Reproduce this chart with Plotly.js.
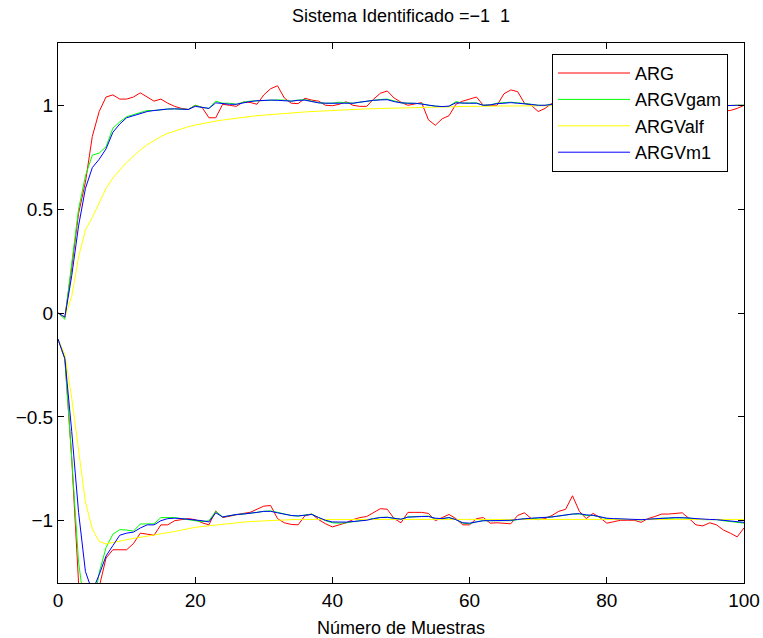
<!DOCTYPE html>
<html>
<head>
<meta charset="utf-8">
<script src="https://cdn.plot.ly/plotly-3.0.1.min.js"></script>
<style>html,body{margin:0;padding:0;background:#fff;}#plot{width:763px;height:638px;}</style>
</head>
<body>
<div id="plot"></div>
<script>
// Sample index 0..100
const samples = Array.from({length: 101}, (_, i) => i);

const seriesNames = ["ARG", "ARGVgam", "ARGValf", "ARGVm1"];

// Parameter converging to +1
const argA = [
 0, -0.02, 0.22, 0.48, 0.63, 0.85, 0.97, 1.04, 1.05, 1.03,
 1.03, 1.04, 1.06, 1.04, 1.02, 1.03, 1.01, 0.995, 0.985, 0.98,
 1.0, 0.99, 0.94, 0.94, 1.005, 1.0, 0.995, 1.016, 1.014, 1.005,
 1.05, 1.08, 1.094, 1.035, 1.01, 1.008, 1.034, 1.025, 1.02, 1.0,
 0.998, 1.005, 1.017, 1.0, 0.995, 0.995, 1.03, 1.058, 1.069, 1.035,
 1.015, 1.0, 1.005, 1.013, 0.93, 0.904, 0.935, 0.95, 1.005, 1.02,
 1.03, 1.04, 1.0, 1.0, 1.0, 1.055, 1.074, 1.066, 1.01, 1.0,
 0.97, 0.985, 1.01, 1.02, 0.99, 1.0, 1.03, 1.01, 0.98, 0.995,
 1.02, 1.0, 0.99, 1.01, 1.03, 1.0, 0.98, 0.99, 1.01, 1.02,
 0.995, 1.0, 0.985, 1.01, 0.99, 0.98, 0.975, 0.973, 0.975, 0.985,
 1.0];
const gamA = [
 0, -0.03, 0.24, 0.5, 0.66, 0.76, 0.77, 0.8, 0.89, 0.92,
 0.945, 0.955, 0.968, 0.975, 0.975, 0.98, 0.982, 0.983, 0.982, 0.98,
 1.0, 0.99, 0.985, 1.02, 1.01, 1.01, 1.005, 1.015, 1.02, 1.022,
 1.025, 1.027, 1.026, 1.025, 1.02, 1.025, 1.027, 1.02, 1.012, 1.01,
 1.01, 1.015, 1.012, 1.01, 1.015, 1.02, 1.025, 1.028, 1.03, 1.02,
 1.012, 1.01, 1.01, 1.008, 1.0, 0.995, 0.993, 0.995, 1.018, 1.01,
 1.01, 1.012, 1.0, 1.002, 1.01, 1.012, 1.015, 1.012, 1.01, 1.005,
 1.0, 1.0, 1.005, 1.01, 1.005, 1.0, 1.008, 1.01, 1.0, 0.998,
 1.005, 1.0, 0.998, 1.005, 1.01, 1.005, 0.998, 1.0, 1.004, 1.006,
 1.0, 1.0, 0.998, 1.002, 1.0, 0.996, 0.996, 0.998, 1.0, 1.0,
 1.0];
const alfA = [
 0, -0.02, 0.08, 0.27, 0.4, 0.46, 0.53, 0.6, 0.65, 0.69,
 0.725, 0.755, 0.785, 0.81, 0.83, 0.85, 0.865, 0.876, 0.888, 0.897,
 0.905, 0.912, 0.918, 0.924, 0.929, 0.934, 0.938, 0.942, 0.946, 0.95,
 0.953, 0.956, 0.959, 0.962, 0.964, 0.966, 0.968, 0.97, 0.972, 0.974,
 0.976, 0.977, 0.979, 0.98, 0.982, 0.983, 0.984, 0.985, 0.986, 0.987,
 0.988, 0.989, 0.99, 0.991, 0.991, 0.992, 0.993, 0.993, 0.994, 0.994,
 0.995, 0.995, 0.996, 0.996, 0.996, 0.997, 0.997, 0.997, 0.998, 0.998,
 0.998, 0.998, 0.998, 0.999, 0.999, 0.999, 0.999, 0.999, 0.999, 0.999,
 0.999, 1.0, 1.0, 1.0, 1.0, 1.0, 1.0, 1.0, 1.0, 1.0,
 1.0, 1.0, 1.0, 1.0, 1.0, 1.0, 1.0, 1.0, 1.0, 1.0,
 1.0];
const m1A = [
 0, -0.02, 0.18, 0.42, 0.6, 0.7, 0.74, 0.79, 0.87, 0.91,
 0.94, 0.95, 0.963, 0.97, 0.975, 0.98, 0.982, 0.983, 0.982, 0.98,
 0.995, 0.99, 0.985, 1.012, 1.008, 1.005, 1.005, 1.012, 1.018, 1.022,
 1.024, 1.025, 1.024, 1.022, 1.02, 1.024, 1.025, 1.018, 1.012, 1.01,
 1.01, 1.013, 1.012, 1.01, 1.015, 1.02, 1.024, 1.026, 1.027, 1.018,
 1.012, 1.01, 1.01, 1.006, 1.0, 0.996, 0.994, 0.996, 1.012, 1.01,
 1.01, 1.01, 1.0, 1.002, 1.008, 1.01, 1.013, 1.01, 1.008, 1.004,
 1.0, 1.0, 1.004, 1.008, 1.005, 1.0, 1.006, 1.008, 1.0, 0.998,
 1.004, 1.0, 0.998, 1.004, 1.008, 1.004, 0.998, 1.0, 1.003, 1.005,
 1.0, 1.0, 0.998, 1.002, 1.0, 0.997, 0.997, 0.998, 1.0, 1.0,
 1.0];

// Parameter converging to -1
const argB = [
 -0.125, -0.22, -0.7, -1.3, -1.55, -1.5, -1.32, -1.18, -1.14, -1.14,
 -1.14, -1.11, -1.06, -1.065, -1.07, -1.02, -1.02, -1.0, -0.995, -0.99,
 -0.995, -1.01, -1.02, -0.953, -0.985, -0.978, -0.97, -0.965, -0.96, -0.945,
 -0.93, -0.927, -0.99, -1.01, -1.018, -1.02, -0.976, -0.968, -0.995, -1.015,
 -1.03, -1.02, -1.01, -0.995, -0.985, -0.98, -0.96, -0.942, -0.945, -0.99,
 -1.01, -0.96, -0.96, -0.96, -0.965, -1.0, -0.985, -0.97, -0.99, -1.02,
 -1.02, -0.99, -0.985, -1.012, -1.01, -1.012, -1.015, -0.975, -0.962, -0.99,
 -0.995, -0.99, -0.975, -0.955, -0.945, -0.88, -0.955, -0.99, -0.965, -0.985,
 -1.012, -1.005, -0.998, -0.998, -0.998, -1.008, -0.99, -0.98, -0.968, -0.968,
 -0.965, -0.962, -0.99, -1.02, -1.025, -1.01, -1.02, -1.045, -1.06, -1.078,
 -1.035];
const gamB = [
 -0.125, -0.22, -0.7, -1.2, -1.45, -1.45, -1.25, -1.13, -1.065, -1.043,
 -1.045, -1.05, -1.016, -1.014, -1.015, -0.985, -0.984, -0.985, -0.99, -0.995,
 -0.998, -1.005, -1.0, -0.955, -0.982, -0.975, -0.97, -0.968, -0.965, -0.96,
 -0.955, -0.953, -0.96, -0.968, -0.975, -0.978, -0.972, -0.968, -0.985, -1.0,
 -1.01, -1.012, -1.01, -1.005, -1.0, -0.998, -0.99, -0.984, -0.983, -0.988,
 -0.993, -0.982, -0.98, -0.98, -0.978, -0.99, -0.99, -0.985, -0.995, -1.012,
 -1.015, -1.005, -1.0, -1.0, -1.0, -1.0, -1.0, -0.995, -0.99, -0.99,
 -0.988, -0.985, -0.982, -0.978, -0.972, -0.968, -0.968, -0.975, -0.975, -0.982,
 -0.99, -0.992, -0.993, -0.995, -0.995, -0.996, -0.994, -0.99, -0.988, -0.988,
 -0.986, -0.986, -0.988, -0.992, -0.995, -0.995, -0.995, -1.0, -1.005, -1.01,
 -1.012];
const alfB = [
 -0.125, -0.2, -0.41, -0.66, -0.91, -1.04, -1.1, -1.112, -1.105, -1.098,
 -1.09, -1.085, -1.08, -1.075, -1.07, -1.065, -1.06, -1.052, -1.045, -1.038,
 -1.032, -1.028, -1.024, -1.02, -1.016, -1.013, -1.01, -1.007, -1.004, -1.002,
 -1.0, -0.998, -0.997, -0.996, -0.995, -0.994, -0.994, -0.993, -0.993, -0.993,
 -0.993, -0.993, -0.993, -0.993, -0.993, -0.993, -0.993, -0.993, -0.993, -0.993,
 -0.993, -0.993, -0.993, -0.993, -0.993, -0.993, -0.993, -0.993, -0.993, -0.993,
 -0.993, -0.993, -0.993, -0.993, -0.993, -0.993, -0.993, -0.993, -0.993, -0.993,
 -0.993, -0.993, -0.993, -0.993, -0.993, -0.993, -0.993, -0.993, -0.993, -0.993,
 -0.993, -0.993, -0.993, -0.993, -0.993, -0.993, -0.993, -0.993, -0.993, -0.993,
 -0.994, -0.994, -0.994, -0.994, -0.994, -0.994, -0.994, -0.994, -0.994, -0.994,
 -0.994];
const m1B = [
 -0.125, -0.22, -0.57, -0.96, -1.245, -1.34, -1.26, -1.17, -1.12, -1.07,
 -1.06, -1.055, -1.035, -1.02, -1.02, -1.0, -0.99, -0.988, -0.99, -0.993,
 -0.997, -1.0, -1.006, -0.962, -0.982, -0.976, -0.97, -0.968, -0.965, -0.96,
 -0.955, -0.955, -0.962, -0.97, -0.975, -0.977, -0.972, -0.97, -0.985, -0.998,
 -1.006, -1.008, -1.007, -1.004, -1.0, -0.998, -0.99, -0.985, -0.984, -0.99,
 -0.993, -0.983, -0.98, -0.98, -0.98, -0.988, -0.99, -0.985, -0.995, -1.01,
 -1.012, -1.005, -1.0, -1.0, -1.0, -0.998, -0.998, -0.994, -0.99, -0.988,
 -0.986, -0.985, -0.982, -0.977, -0.972, -0.968, -0.966, -0.972, -0.974, -0.98,
 -0.988, -0.99, -0.992, -0.994, -0.994, -0.995, -0.993, -0.99, -0.987, -0.987,
 -0.985, -0.985, -0.987, -0.99, -0.993, -0.994, -0.995, -0.998, -1.002, -1.006,
 -1.008];

const yTickVals = [-1, -0.5, 0, 0.5, 1];
const xTickVals = [0, 20, 40, 60, 80, 100];

const colors = ["#ff0000", "#00ff00", "#ffff00", "#0000ff"];
const pairs = [[argA, argB], [gamA, gamB], [alfA, alfB], [m1A, m1B]];

const traces = [];
pairs.forEach((p, i) => {
  [0, 1].forEach(j => {
    traces.push({
      x: samples, y: p[j], type: "scatter", mode: "lines",
      name: seriesNames[i], legendgroup: seriesNames[i], showlegend: j === 0,
      line: {color: colors[i], width: 1}
    });
  });
});

const FONT = "Liberation Sans, Arial, Helvetica, sans-serif";
const layout = {
  width: 763, height: 638,
  margin: {l: 58, r: 19, t: 43, b: 55},
  paper_bgcolor: "#fff", plot_bgcolor: "#fff",
  font: {family: FONT, size: 19, color: "#000"},
  title: {text: "Sistema Identificado =\u22121  1", x: 0.5, xref: "paper", y: 0.976, yref: "container", yanchor: "middle", font: {family: FONT, size: 18, color: "#000"}},
  xaxis: {
    range: [0, 100], tickvals: xTickVals, ticks: "inside", ticklen: 6, tickcolor: "#000",
    showline: true, linecolor: "#000", linewidth: 1, mirror: "ticks", showgrid: false, zeroline: false,
    title: {text: "Número de Muestras", font: {family: FONT, size: 18, color: "#000"}, standoff: 11},
    tickfont: {family: FONT, size: 19, color: "#000"}
  },
  yaxis: {
    range: [-1.3, 1.3], tickvals: yTickVals, ticks: "inside", ticklen: 6, tickcolor: "#000",
    showline: true, linecolor: "#000", linewidth: 1, mirror: "ticks", showgrid: false, zeroline: false,
    tickfont: {family: FONT, size: 19, color: "#000"}
  },
  showlegend: true,
  legend: {
    x: 0.9767, y: 0.98, xanchor: "right", yanchor: "top",
    bgcolor: "#fff", bordercolor: "#000", borderwidth: 1,
    font: {family: FONT, size: 18, color: "#000"},
    itemwidth: 72, tracegroupgap: 0
  }
};

Plotly.newPlot("plot", traces, layout, {staticPlot: true});
</script>
</body>
</html>
